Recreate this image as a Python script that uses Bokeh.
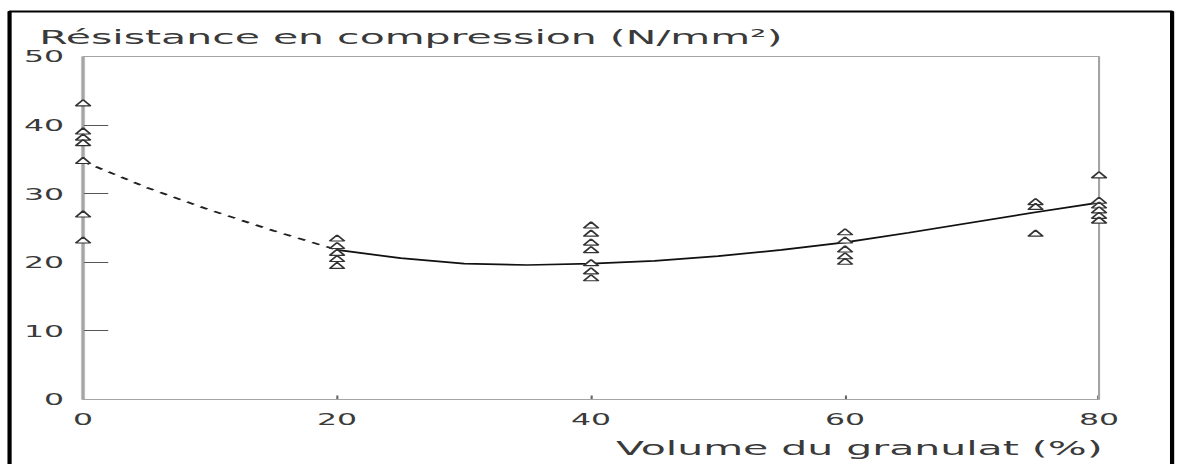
from bokeh.plotting import figure
from bokeh.models import Range1d, BoxAnnotation, Label, FixedTicker, InlineStyleSheet
from bokeh.embed import file_html
from bokeh.resources import INLINE

# ---- data ----
granulat = [0, 20, 40, 60, 75, 80]                 # volume du granulat (%)
res_0 = [43.1, 39.0, 38.1, 37.3, 34.7, 26.9, 23.1]  # N/mm2 at 0 %
res_20 = [23.4, 22.3, 21.3, 20.4, 19.4]
res_40 = [25.3, 24.1, 22.8, 21.7, 19.8, 18.6, 17.6]
res_60 = [24.3, 23.1, 21.8, 20.8, 20.0]
res_75 = [28.7, 28.0, 24.1]
res_80 = [32.6, 28.9, 28.2, 27.5, 26.7, 26.0]

# fitted trend curve (dashed part extrapolated to 0 %)
dash_x = [0, 5, 10, 15, 20]
dash_y = [34.7, 30.9, 27.6, 24.6, 21.8]
fit_x = [20, 25, 30, 35, 40, 45, 50, 55, 60, 65, 70, 75, 80]
fit_y = [21.8, 20.6, 19.8, 19.6, 19.8, 20.2, 20.9, 21.8, 22.9, 24.3, 25.8, 27.3, 28.7]

x_ticks = [0, 20, 40, 60, 80]
y_ticks = [0, 10, 20, 30, 40, 50]

title_text = "Résistance en compression (N/mm²)"
xlabel_text = "Volume du granulat (%)"

# ---- build point table ----
series = [res_0, res_20, res_40, res_60, res_75, res_80]
pts_x = [v for v, ys in zip(granulat, series) for _ in ys]
pts_y = [y for ys in series for y in ys]

W_REAL, H = 1177, 464
W = 560
K = W_REAL / W  # horizontal stretch of the reference image

FONT = "DejaVu Sans"
TXT = "#3a3a3a"

p = figure(width=W, height=H, output_backend="svg", toolbar_location=None,
           x_range=Range1d(-6.46, 86.22), y_range=Range1d(-9.48, 58.16),
           min_border=0)
p.stylesheets = [InlineStyleSheet(css=f":host > * {{ transform: scaleX({K}); transform-origin: 0 0; }}")]
p.grid.visible = False
p.outline_line_color = None
p.background_fill_color = "white"
p.border_fill_color = "white"

# y axis sits on x = 0
ya = p.yaxis[0]
ya.fixed_location = 0
ya.bounds = (0, 50)
ya.ticker = FixedTicker(ticks=y_ticks)
ya.axis_line_color = "#c2c2c2"
ya.axis_line_width = 2
ya.major_tick_in = 12
ya.major_tick_out = 0
ya.major_tick_line_color = "#555555"
ya.minor_tick_line_color = None
ya.major_label_text_font = FONT
ya.major_label_text_font_size = "15px"
ya.major_label_text_color = TXT
ya.major_label_standoff = 9

xa = p.xaxis[0]
xa.fixed_location = 0
xa.bounds = (0, 80)
xa.ticker = FixedTicker(ticks=x_ticks)
xa.axis_line_color = "#8a8a8a"
xa.major_tick_in = 4
xa.major_tick_out = 0
xa.major_tick_line_color = "#666666"
xa.minor_tick_line_color = None
xa.major_label_text_font = FONT
xa.major_label_text_font_size = "15px"
xa.major_label_text_color = TXT
xa.major_label_standoff = 14

# inner box of the diagram
p.add_layout(BoxAnnotation(left=0, right=80, bottom=0, top=50,
                           fill_alpha=0, line_color="#a4a4a4", line_alpha=1, line_width=1))

# curve
p.line(dash_x, dash_y, line_color="#222222", line_width=1.6, line_dash="4 4")
p.line(fit_x, fit_y, line_color="#111111", line_width=1.7)

# measured points
p.scatter(pts_x, pts_y, marker="triangle", size=7, fill_color="white",
          line_color="#333333", line_width=1.1, level="overlay")

# texts
p.add_layout(Label(x=-3.46, y=52.8, text=title_text, text_font=FONT,
                   text_font_size="19.5px", text_color=TXT, text_baseline="alphabetic"))
p.add_layout(Label(x=80.3, y=-7.1, text=xlabel_text, text_font=FONT,
                   text_font_size="19.5px", text_color=TXT, text_align="right",
                   text_baseline="alphabetic"))

# outer frame of the picture
p.add_layout(BoxAnnotation(left=-5.79, right=85.75, top=56.56, bottom=-10,
                           fill_alpha=0, line_color="black", line_alpha=1, line_width=2))

open("out.html", "w").write(file_html(p, INLINE))
